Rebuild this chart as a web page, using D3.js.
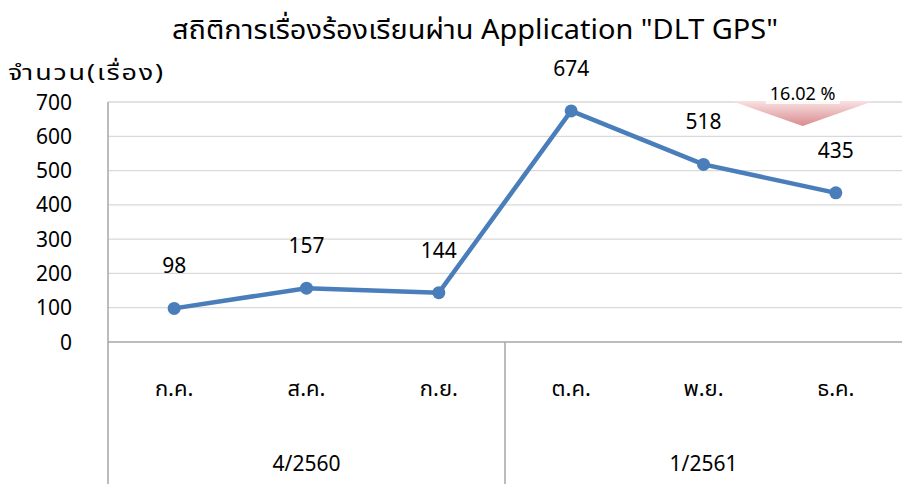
<!DOCTYPE html>
<html>
<head>
<meta charset="utf-8">
<script src="https://cdn.jsdelivr.net/npm/d3@7"></script>
<style>
  body { margin: 0; background: #fff; }
  text { font-family: "Noto Sans", "Noto Sans Thai", sans-serif; fill: #000; }
</style>
</head>
<body>
<div id="chart"></div>
<script>
// data
const months = ["ก.ค.", "ส.ค.", "ก.ย.", "ต.ค.", "พ.ย.", "ธ.ค."];
const groups = ["4/2560", "1/2561"];
const monthGroup = ["4/2560", "4/2560", "4/2560", "1/2561", "1/2561", "1/2561"];
const counts = [98, 157, 144, 674, 518, 435];
const yTicks = [0, 100, 200, 300, 400, 500, 600, 700];
const changeLabel = "16.02 %";

const W = 902, H = 484;
let margin = {top: 102, right: 0, bottom: 142, left: 108},
    width = W - margin.left - margin.right,
    height = H - margin.top - margin.bottom;

const svg = d3.select("#chart")
  .append("svg")
  .attr("width", W)
  .attr("height", H);

const g = svg.append("g")
  .attr("transform", `translate(${margin.left},${margin.top})`);

const x = d3.scaleBand().domain(months).range([0, width]);
const y = d3.scaleLinear().domain([0, 700]).range([height, 0]);

// title
svg.append("text")
  .attr("x", 172).attr("y", 39)
  .attr("textLength", 606)
  .attr("lengthAdjust", "spacingAndGlyphs")
  .style("font-size", "27px")
  .text("สถิติการเรื่องร้องเรียนผ่าน Application \"DLT GPS\"");

// y axis title
svg.append("text")
  .attr("x", 8).attr("y", 80)
  .attr("textLength", 157)
  .attr("lengthAdjust", "spacingAndGlyphs")
  .style("font-size", "22px")
  .style("letter-spacing", "1.5px")
  .text("จำนวน(เรื่อง)");

// gridlines
g.selectAll(".grid")
  .data(yTicks.filter(d => d > 0))
  .join("line")
  .attr("x1", 0).attr("x2", width)
  .attr("y1", d => y(d)).attr("y2", d => y(d))
  .attr("stroke", "#d9d9d9").attr("stroke-width", 1.3);

// y tick labels
g.selectAll(".ytick")
  .data(yTicks)
  .join("text")
  .attr("x", -36).attr("y", d => y(d))
  .attr("dy", "0.36em")
  .attr("text-anchor", "end")
  .style("font-size", "21px")
  .text(d => d);

// axis lines
g.append("line")
  .attr("x1", 0).attr("x2", 0).attr("y1", 0).attr("y2", H - margin.top)
  .attr("stroke", "#a6a6a6").attr("stroke-width", 1.5);
g.append("line")
  .attr("x1", 0).attr("x2", width).attr("y1", height).attr("y2", height)
  .attr("stroke", "#a6a6a6").attr("stroke-width", 1.5);

// group separators + group labels
groups.forEach(function (gr, i) {
  let idx = monthGroup.indexOf(gr);
  if (i > 0) {
    g.append("line")
      .attr("x1", x(months[idx])).attr("x2", x(months[idx]))
      .attr("y1", height).attr("y2", H - margin.top)
      .attr("stroke", "#a6a6a6").attr("stroke-width", 1.5);
  }
  let members = months.filter((m, j) => monthGroup[j] == gr);
  let cx = (x(members[0]) + x(members[members.length - 1]) + x.bandwidth()) / 2;
  g.append("text")
    .attr("x", cx).attr("y", height + 129)
    .attr("text-anchor", "middle")
    .style("font-size", "21px")
    .text(gr);
});

// month labels
g.selectAll(".xtick")
  .data(months)
  .join("text")
  .attr("x", d => x(d) + x.bandwidth() / 2)
  .attr("y", height + 54)
  .attr("text-anchor", "middle")
  .style("font-size", "22px")
  .text(d => d);

// change arrow
const defs = svg.append("defs");
const grad = defs.append("linearGradient")
  .attr("id", "arrowGrad").attr("x1", 0).attr("y1", 0).attr("x2", 0).attr("y2", 1);
grad.append("stop").attr("offset", "0%").attr("stop-color", "#f8e2e2");
grad.append("stop").attr("offset", "100%").attr("stop-color", "#d98a8e");

const ax = x(months[5]) + 33, atop = y(700) - 1, atip = y(630);
g.append("path")
  .attr("d", `M${ax - 71},${atop} L${ax + 71},${atop} L${ax},${atip} Z`)
  .attr("fill", "url(#arrowGrad)");
g.append("rect")
  .attr("x", ax - 37).attr("y", atop - 19)
  .attr("width", 74).attr("height", 22)
  .attr("fill", "#fff").attr("opacity", 0.8);
g.append("text")
  .attr("x", ax).attr("y", atop - 1)
  .attr("text-anchor", "middle")
  .style("font-size", "18px")
  .text(changeLabel);

// line
const line = d3.line()
  .x((d, i) => x(months[i]) + x.bandwidth() / 2)
  .y(d => y(d));

g.append("path")
  .datum(counts)
  .attr("fill", "none")
  .attr("stroke", "#4a7ebb")
  .attr("stroke-width", 4.5)
  .attr("stroke-linejoin", "round")
  .attr("d", line);

g.selectAll(".dot")
  .data(counts)
  .join("circle")
  .attr("cx", (d, i) => x(months[i]) + x.bandwidth() / 2)
  .attr("cy", d => y(d))
  .attr("r", 6.5)
  .attr("fill", "#4a7ebb");

// data labels
g.selectAll(".lbl")
  .data(counts)
  .join("text")
  .attr("x", (d, i) => x(months[i]) + x.bandwidth() / 2)
  .attr("y", d => y(d) - 35)
  .attr("text-anchor", "middle")
  .style("font-size", "21px")
  .text(d => d);
</script>
</body>
</html>
